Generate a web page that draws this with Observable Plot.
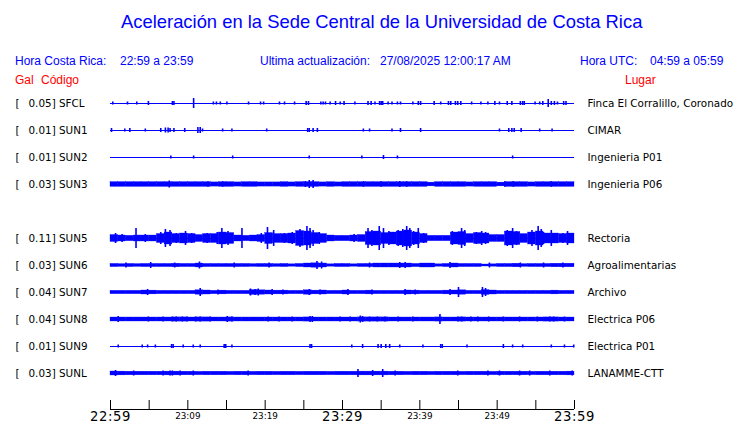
<!DOCTYPE html>
<html>
<head>
<meta charset="utf-8">
<script src="https://cdn.jsdelivr.net/npm/d3@7"></script>
<script src="https://cdn.jsdelivr.net/npm/@observablehq/plot@0.6"></script>
<style>
  body { margin: 0; background: #fff; }
  #hdr { position: relative; width: 740px; height: 88px; font-family: "Liberation Sans", Arial, sans-serif; }
  #hdr span { position: absolute; white-space: pre; line-height: 14px; }
  .blue { color: #0000ff; }
  .red { color: #ff0000; }
  #chart svg { display: block; }
  .bigtick text { letter-spacing: 0.6px; }
</style>
</head>
<body>
<div id="hdr">
  <span class="blue" style="left:121px; top:10px; font-size:18.4px; line-height:24px;">Aceleración en la Sede Central de la Universidad de Costa Rica</span>
  <span class="blue" style="left:15px; top:54px; font-size:12px;">Hora Costa Rica:</span>
  <span class="blue" style="left:120px; top:54px; font-size:12px;">22:59 a 23:59</span>
  <span class="blue" style="left:260px; top:54px; font-size:12px;">Ultima actualización:</span>
  <span class="blue" style="left:380px; top:54px; font-size:12px;">27/08/2025 12:00:17 AM</span>
  <span class="blue" style="left:580px; top:54px; font-size:12px;">Hora UTC:</span>
  <span class="blue" style="left:650px; top:54px; font-size:12px;">04:59 a 05:59</span>
  <span class="red" style="left:15px; top:73px; font-size:12px;">Gal</span>
  <span class="red" style="left:41px; top:73px; font-size:12px;">Código</span>
  <span class="red" style="left:625px; top:73px; font-size:12px;">Lugar</span>
</div>
<div id="chart"></div>
<script>
// ---- data ----
const stations = ["SFCL","SUN1","SUN2","SUN3","SUN5","SUN6","SUN7","SUN8","SUN9","SUNL"];
const gal = ["0.05","0.01","0.01","0.03","0.11","0.03","0.04","0.04","0.01","0.03"];
const places = ["Finca El Corralillo, Coronado","CIMAR","Ingenieria P01","Ingenieria P06","Rectoria","Agroalimentarias","Archivo","Electrica P06","Electrica P01","LANAMME-CTT"];
const rowIndex = [0,1,2,3,5,6,7,8,9,10];

// per-minute envelope (half amplitude, relative units), minutes 0..59 after 22:59
const envSUN3 = [2.4,2.4,2.4,2.4,2.4, 2.4,2.4,2.4,2.4,2.4, 2.4,2.4,2.4,2.1,2.4, 2.4,2.1,2.4,2.4,2.1, 2.1,2.1,2.4,2.1,2.4, 2.4,2.4,2.1,2.4,2.1, 2.4,2.4,2.4,2.4,2.4, 2.4,2.4,2.4,2.4,2.4, 2.4,1.9,2.4,2.4,2.4, 2.4,2.1,2.4,2.4,2.4, 1.9,2.4,2.4,2.4,2.1, 2.4,2.4,2.4,2.4,2.4];
const envSUN5 = [3.5,3,2.7,3,3, 3,4.5,6,4.5,5, 4.5,3.5,4.5,4.5,6, 5.5,3,2.7,3,3.5, 5.5,4.5,4.5,5,7.5, 7,5.5,4.5,3,2.7, 2.7,3,3.5,6.5,7, 5.5,6,7,8,6, 4.5,2.7,2.7,2.7,6, 6.5,4.5,5.5,5,3.5, 3.5,7,6.5,4.5,6, 7,5,5,4.5,5];
const envSUN6 = [1.6,1.4,1.6,1.4,1.6, 1.6,1.6,1.6,1.8,1.6, 1.6,2,1.6,1.6,1.6, 1.6,1.6,1.6,1.4,1.6, 1.6,1.4,1.6,1.2,1.6, 2,2.2,2,1.2,1.6, 1.6,1.2,1.6,1.6,2, 2,2,2,2,1.6, 2,2,1.2,1.6,2, 1.6,1.6,1.6,1,1.2, 1.6,1.6,1.8,1.4,1.6, 1.6,1.6,1.8,1.8,1.8];
const envSUN7 = [1.7,1.7,1.7,1.7,2.0, 1.9,1.7,1.7,1.7,1.7, 1.7,2.2,2.0,1.7,1.9, 1.7,1.7,1.7,2.4,2.2, 2.0,1.9,1.9,1.7,1.7, 2.2,1.9,2.0,1.7,1.7, 2.0,1.7,1.7,1.9,1.7, 1.7,1.7,1.7,2.0,1.9, 1.7,1.7,1.7,1.9,2.0, 2.2,1.7,1.7,2.4,2.0, 1.7,1.7,1.7,1.7,1.7, 1.7,1.7,1.9,1.7,1.7];
const envSUN8 = [2.0,2.0,2.0,2.0,2.0, 2.0,2.0,2.0,2.1,2.1, 2.0,2.1,2.1,2.0,2.0, 2.1,2.0,2.0,2.0,2.0, 2.0,2.0,2.0,2.0,2.0, 2.1,2.0,2.0,2.0,2.0, 2.0,2.0,2.1,2.1,2.1, 2.1,2.0,2.0,2.0,2.0, 2.0,2.0,2.1,2.0,2.0, 2.1,2.0,2.0,2.0,2.0, 2.0,2.0,2.0,2.0,2.0, 2.0,2.1,2.1,2.0,2.0];
const envSUNL = [2.0,1.9,1.8,1.8,1.8, 1.8,1.8,1.9,1.9,1.8, 1.8,1.7,1.8,1.8,1.8, 1.7,1.8,1.8,1.7,1.8, 1.8,1.7,1.8,1.8,1.7, 1.8,1.8,1.8,1.7,1.8, 1.8,1.8,1.9,1.9,1.9, 1.9,1.8,1.8,1.7,1.8, 1.8,1.7,1.8,1.8,1.8, 1.7,1.8,1.8,1.8,1.7, 1.8,1.8,1.8,1.8,1.7, 1.8,1.8,1.8,1.8,1.9];

// spikes: [minute, half amplitude]
const spkSFCL = [[0.3,1.5],[2.2,1.5],[3.4,1.5],[4.9,2],[8.0,2],[8.2,2],[10.75,5],[13.3,1.5],[13.7,1.5],[14.2,1.5],[15.05,1.5],[17.85,1.5],[19.4,1.5],[19.8,1.5],[21.85,1.5],[22.5,1.5],[23.8,1.5],[25.3,2],[25.6,2],[27.2,1.5],[27.5,1.5],[27.8,1.5],[28.4,1.5],[29.1,2],[29.7,1.5],[30.2,2],[31.6,1.5],[33.3,2],[33.7,2],[34.2,1.5],[34.8,2],[35.0,2],[35.2,2],[35.9,1.5],[36.4,1.5],[37.1,1.5],[37.5,1.5],[39.1,1.5],[39.8,2],[40.1,2],[41.85,2],[42.7,1.5],[43.7,2],[44.0,2],[44.6,2],[44.9,2],[45.3,2],[46.7,1.5],[47.9,1.5],[48.8,1.5],[49.7,2],[50.3,1.5],[51.3,2],[51.9,2],[53.0,2],[53.3,2],[53.5,2],[54.9,1.5],[55.5,1.5],[55.9,2],[56.6,4],[57.0,2],[57.4,2],[57.8,1.5],[58.6,2],[58.9,2]];
const spkSUN1 = [[0.13,2],[1.85,1.5],[2.5,2],[4.5,1.5],[6.5,2],[7.1,2.5],[7.45,2.5],[7.7,2],[8.2,2],[9.6,2],[11.3,3],[11.6,3],[11.9,1.5],[14.5,1.5],[15.7,1.5],[20.2,1.5],[25.5,2],[25.7,2],[26.2,2],[26.75,2],[32.7,1.5],[33.5,1.5],[36.4,1.5],[37.5,2],[40.1,2],[50.3,1.5],[51.5,2],[51.9,2],[52.2,2],[53.1,2],[55.5,1.5],[57.1,1.5]];
const spkSUN2 = [[7.8,1.5],[10.75,1.5],[15.8,1.5],[25.7,1.5],[32.5,1.5],[35.3,2],[37.1,1.5],[52.0,1.5]];
const spkSUN3 = [[7.6,3.5],[12.6,2.8],[14.5,2.8],[25.2,3],[25.7,4],[26.2,4],[32.7,2.8],[35.0,2.8],[37.4,3],[38.3,2.8],[51.0,2.8],[52.1,2.8],[57.0,2.8]];
const spkSUN5 = [[0.65,5],[1.5,4],[3.3,10],[4.5,4],[6.5,6],[7.1,9],[7.7,8],[8.5,5],[9.7,7],[10.5,5],[12.5,5],[13.8,6],[14.4,10],[15.2,7],[17.0,10],[19.5,5],[20.3,11],[21.1,8],[22.5,5],[23.5,6],[24.5,9],[25.4,12],[25.8,10],[26.2,8],[27.0,6],[31.5,4],[33.3,10],[33.8,8],[34.75,12],[35.3,10],[36.0,7],[37.2,8],[37.8,9],[38.3,12],[38.7,10],[39.2,7],[39.8,10],[40.5,5],[44.2,7],[45.4,10],[45.8,8],[47.3,6],[48.0,7],[48.5,6],[51.3,8],[52.0,10],[52.5,7],[54.5,8],[55.3,12],[55.7,9],[56.0,6],[57.0,8],[58.5,5],[59.1,7]];
const spkSUN6 = [[2.0,2.5],[5.2,3],[8.3,2.5],[11.5,3.5],[16.0,2.5],[20.5,2.5],[26.7,4],[27.3,3.5],[33.5,2.5],[37.4,3],[38.1,3],[43.9,3],[49.0,2.5],[53.0,2.5],[56.0,2.5],[58.5,2.5]];
const spkSUN7 = [[4.8,3],[11.6,4],[13.9,2.5],[18.1,3.5],[18.7,3],[19.1,3.5],[20.9,3],[22.3,2.5],[25.7,3],[27.1,2.5],[30.7,3],[33.8,2.5],[38.1,3],[39.4,2.5],[43.9,3],[45.0,5],[48.1,5],[48.5,4]];
const spkSUN8 = [[1.0,3],[4.9,2.5],[6.8,2.5],[8.0,2.5],[8.5,2.5],[9.3,2.5],[9.9,2.5],[11.0,2.5],[11.6,2.5],[12.9,2.5],[15.1,3],[15.7,2.5],[20.4,2.5],[21.8,2.5],[23.5,2.5],[25.8,3],[26.1,3],[29.7,2.5],[31.0,2.5],[32.3,3.5],[32.6,3],[33.5,2.5],[34.5,2.5],[35.5,2.5],[37.2,2.5],[39.1,2.5],[42.6,5],[44.9,2.5],[45.4,2.5],[46.6,2.5],[47.5,2.5],[48.9,2.5],[50.8,2.5],[52.9,2.5],[55.2,2.5],[56.8,2.5],[57.3,2.5],[58.7,2.5]];
const spkSUN9 = [[1.0,1.5],[4.1,1.5],[4.8,1.5],[5.8,1.5],[7.9,2],[8.1,2],[9.4,1.5],[10.7,1.5],[11.6,1.5],[14.7,2],[14.9,2],[15.7,1.5],[25.8,2],[26.0,2],[31.2,1.5],[32.6,2],[34.6,2],[35.0,2],[35.6,2],[36.1,2],[37.4,1.5],[40.4,1.5],[42.7,2],[42.9,2],[46.1,1.5],[50.8,2],[52.0,1.5],[53.3,1.5],[57.0,1.5],[58.7,1.5],[59.9,1.5]];
const spkSUNL = [[0.65,3],[3.0,2.5],[6.8,2.5],[7.7,2.5],[8.0,2.5],[9.0,2.5],[10.7,2.5],[17.8,2.5],[32.0,4],[33.9,3],[35.2,4],[36.8,2.5],[44.9,2.5],[48.8,2.5],[50.3,2.5],[52.9,2.5],[54.2,2.5],[56.8,2.5],[59.7,2.5]];

const envelopes = [null, null, null, envSUN3, envSUN5, envSUN6, envSUN7, envSUN8, null, envSUNL];
const spikes = [spkSFCL, spkSUN1, spkSUN2, spkSUN3, spkSUN5, spkSUN6, spkSUN7, spkSUN8, spkSUN9, spkSUNL];

// time axis (minutes after 22:59)
const tickMinutes = [0,5,10,15,20,25,30,35,40,45,50,55,60];
const bigLabels = [[0,"22:59"],[30,"23:29"],[60,"23:59"]];
const smallLabels = [[10,"23:09"],[20,"23:19"],[40,"23:39"],[50,"23:49"]];

// ---- build tables ----
const ROW_PX = 27;              // pixels per row
const K = 1 / ROW_PX;           // amplitude unit -> row units
const rows = stations.map((s, i) => ({station: s, gal: gal[i], place: places[i], row: rowIndex[i]}));
const envData = [];
envelopes.forEach((env, i) => {
  if (!env) return;
  env.forEach((a, m) => envData.push({row: rowIndex[i], m0: m, m1: m + 1, a}));
});
const spikeData = [];
spikes.forEach((list, i) => list.forEach(([m, a]) => spikeData.push({row: rowIndex[i], m, a})));

// layout in row units (row 0 at 15px, 27px per row)
const toRow = px => (px - 15) / ROW_PX;
const AXIS_Y = toRow(321), TICK_TOP = toRow(312), LABEL_Y = toRow(328);

const blue = "#0000ff";
const chart = Plot.plot({
  width: 740,
  height: 335,
  margin: 0,
  style: {fontFamily: "'DejaVu Sans', sans-serif", background: "white", overflow: "visible"},
  x: {domain: [0, 60], range: [110, 574], axis: null},
  y: {domain: [0, 10], range: [15, 285], axis: null},
  marks: [
    Plot.ruleY(rows, {y: "row", x1: 0, x2: 60, stroke: blue, strokeWidth: 1}),
    Plot.rect(envData, {x1: "m0", x2: "m1", y1: d => d.row - d.a * K, y2: d => d.row + d.a * K, fill: blue, stroke: blue, strokeWidth: 0.3}),
    Plot.ruleX(spikeData, {x: "m", y1: d => d.row - d.a * K, y2: d => d.row + d.a * K, stroke: blue, strokeWidth: 1.6}),
    // labels
    Plot.text(rows, {y: "row", frameAnchor: "left", dx: 15, text: () => "[", textAnchor: "start", fontSize: 10.4, fill: "black"}),
    Plot.text(rows, {y: "row", frameAnchor: "left", dx: 28, text: d => `${d.gal}] ${d.station}`, textAnchor: "start", fontSize: 10.4, fill: "black"}),
    Plot.text(rows, {y: "row", frameAnchor: "left", dx: 587, text: "place", textAnchor: "start", fontSize: 10.4, fill: "black"}),
    // time axis
    Plot.ruleY([AXIS_Y], {x1: 0, x2: 60, stroke: "black"}),
    Plot.ruleX(tickMinutes, {x: d => d, y1: TICK_TOP, y2: AXIS_Y, stroke: "black"}),
    Plot.text(bigLabels, {x: d => d[0], y: LABEL_Y, text: d => d[1], fontSize: 13.2, fill: "black", className: "bigtick"}),
    Plot.text(smallLabels, {x: d => d[0], y: LABEL_Y, text: d => d[1], fontSize: 8.8, fill: "black"})
  ]
});
document.getElementById("chart").appendChild(chart);
</script>
</body>
</html>
